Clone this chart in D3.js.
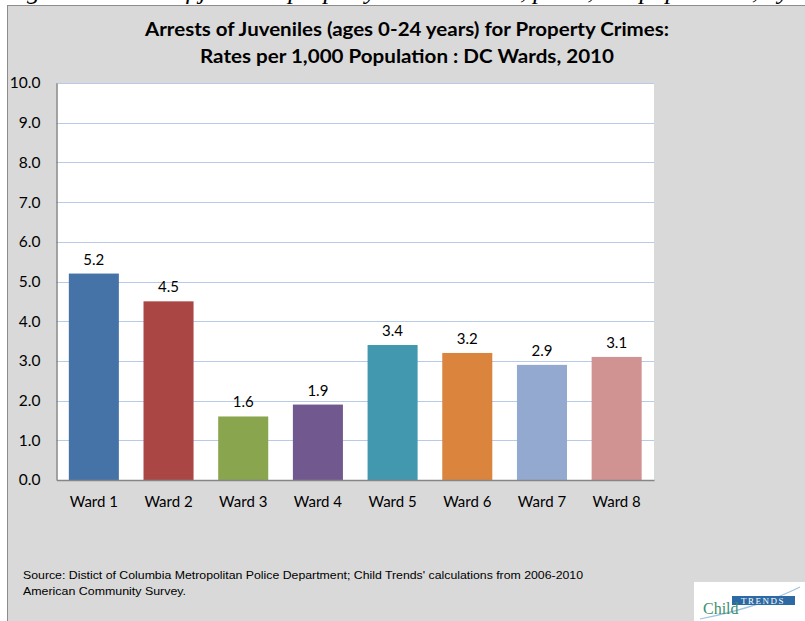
<!DOCTYPE html>
<html>
<head>
<meta charset="utf-8">
<script src="https://cdn.jsdelivr.net/npm/d3@7"></script>
<style>
  html, body { margin: 0; padding: 0; background: #ffffff; }
  svg { display: block; }
</style>
</head>
<body>
<svg id="chart" width="805" height="621"></svg>
<script>
// Juvenile property-crime arrest rates per 1,000 population, by DC ward, 2010
const wards = ["Ward 1", "Ward 2", "Ward 3", "Ward 4", "Ward 5", "Ward 6", "Ward 7", "Ward 8"];
const rates = [5.2, 4.5, 1.6, 1.9, 3.4, 3.2, 2.9, 3.1];
const barColors = ["#4572a7", "#aa4643", "#89a54e", "#71588f", "#4198af", "#db843d", "#93a9cf", "#d19392"];
const yTicks = [0, 1, 2, 3, 4, 5, 6, 7, 8, 9, 10];
const titleLines = [
  "Arrests of Juveniles (ages 0-24 years) for Property Crimes:",
  "Rates per 1,000 Population :  DC Wards, 2010"
];
const sourceLines = [
  "Source: Distict of Columbia Metropolitan Police Department; Child Trends' calculations  from 2006-2010",
  "American Community Survey."
];
const captionAbove = "Figure 8: Rates of juvenile property crime arrests, per 1,000 population, by ward, 2010";

const svg = d3.select("#chart");
const W = 805, H = 621;
const plot = { left: 56.5, right: 654, top: 83, bottom: 480 };

// Caption line running off the top edge (only its descenders show)
svg.append("text")
  .attr("x", 4).attr("y", -1)
  .attr("font-family", "'Liberation Serif', serif")
  .attr("font-style", "italic")
  .attr("font-size", 26)
  .attr("fill", "#000")
  .text(captionAbove);

// Chart panel
svg.append("rect")
  .attr("x", 7.5).attr("y", 5.5)
  .attr("width", W).attr("height", H)
  .attr("fill", "#d9d9d9")
  .attr("stroke", "#8c8c8c").attr("stroke-width", 1);

// Title
const titleG = svg.append("g")
  .attr("font-family", "Lato, 'Open Sans', sans-serif")
  .attr("font-weight", "bold")
  .attr("font-size", 18)
  .attr("fill", "#000")
  .attr("text-anchor", "middle");
titleG.append("text").attr("x", 407).attr("y", 36)
  .attr("textLength", 524).attr("lengthAdjust", "spacingAndGlyphs")
  .text(titleLines[0]);
titleG.append("text").attr("x", 407).attr("y", 63)
  .attr("textLength", 414).attr("lengthAdjust", "spacingAndGlyphs")
  .text(titleLines[1]);

// Plot area background
svg.append("rect")
  .attr("x", plot.left).attr("y", plot.top)
  .attr("width", plot.right - plot.left).attr("height", plot.bottom - plot.top)
  .attr("fill", "#ffffff");

const x = d3.scaleBand()
  .domain(wards)
  .range([plot.left, plot.right])
  .paddingInner(0.33)
  .paddingOuter(0.165);

const y = d3.scaleLinear()
  .domain([0, 10])
  .range([plot.bottom, plot.top]);

// Dotted gridlines
svg.append("g")
  .selectAll("line")
  .data(yTicks.filter(t => t > 0))
  .join("line")
  .attr("x1", plot.left).attr("x2", plot.right)
  .attr("y1", d => Math.round(y(d)) + 0.5)
  .attr("y2", d => Math.round(y(d)) + 0.5)
  .attr("stroke", "#6f95cf")
  .attr("stroke-width", 1)
  .attr("stroke-dasharray", "1,1");

// Bars
svg.append("g")
  .selectAll("rect")
  .data(rates)
  .join("rect")
  .attr("x", (d, i) => x(wards[i]))
  .attr("y", d => y(d))
  .attr("width", x.bandwidth())
  .attr("height", d => y(0) - y(d))
  .attr("fill", (d, i) => barColors[i]);

// Value labels
svg.append("g")
  .attr("font-family", "Lato, 'Open Sans', sans-serif")
  .attr("font-size", 15)
  .attr("fill", "#000")
  .attr("text-anchor", "middle")
  .selectAll("text")
  .data(rates)
  .join("text")
  .attr("x", (d, i) => x(wards[i]) + x.bandwidth() / 2)
  .attr("y", d => y(d) - 9)
  .text(d => d3.format(".1f")(d));

// Y axis
const yAxis = d3.axisLeft(y)
  .tickValues(yTicks)
  .tickFormat(d3.format(".1f"))
  .tickSize(0)
  .tickPadding(16);
const yG = svg.append("g")
  .attr("transform", `translate(${plot.left},0)`)
  .call(yAxis);
yG.select(".domain").attr("stroke", "#868686").attr("stroke-width", 1.5);
yG.selectAll("text")
  .attr("font-family", "Lato, 'Open Sans', sans-serif")
  .attr("font-size", 15.5)
  .attr("fill", "#000");

// X axis
const xAxis = d3.axisBottom(x).tickSize(0).tickPadding(16);
const xG = svg.append("g")
  .attr("transform", `translate(0,${plot.bottom})`)
  .call(xAxis);
xG.select(".domain").attr("stroke", "#868686").attr("stroke-width", 1.5);
xG.selectAll("text")
  .attr("font-family", "Lato, 'Open Sans', sans-serif")
  .attr("font-size", 15)
  .attr("fill", "#000");

// Source note
const srcG = svg.append("g")
  .attr("font-family", "'Liberation Sans Narrow', 'Arial Narrow', sans-serif")
  .attr("font-size", 11.5)
  .attr("fill", "#000");
srcG.append("text").attr("x", 23).attr("y", 579)
  .attr("textLength", 560).attr("lengthAdjust", "spacingAndGlyphs")
  .text(sourceLines[0]);
srcG.append("text").attr("x", 23).attr("y", 595)
  .attr("textLength", 163).attr("lengthAdjust", "spacingAndGlyphs")
  .text(sourceLines[1]);

// Child Trends mark
const logo = svg.append("g");
logo.append("rect")
  .attr("x", 694).attr("y", 582).attr("width", 111).attr("height", 39)
  .attr("fill", "#ffffff");
logo.append("path")
  .attr("d", "M700,619 C735,612 770,602 800,587")
  .attr("fill", "none").attr("stroke", "#9fc3e0").attr("stroke-width", 1.2);
logo.append("rect")
  .attr("x", 732).attr("y", 596).attr("width", 63).attr("height", 9)
  .attr("fill", "#2d6aa3");
logo.append("text")
  .attr("x", 763).attr("y", 604)
  .attr("text-anchor", "middle")
  .attr("font-family", "'Liberation Serif', serif")
  .attr("font-size", 9)
  .attr("letter-spacing", 1.5)
  .attr("fill", "#ffffff")
  .text("TRENDS");
logo.append("text")
  .attr("x", 703).attr("y", 614)
  .attr("font-family", "'Liberation Serif', serif")
  .attr("font-size", 16)
  .attr("fill", "#3f8f6e")
  .text("Child");
</script>
</body>
</html>
